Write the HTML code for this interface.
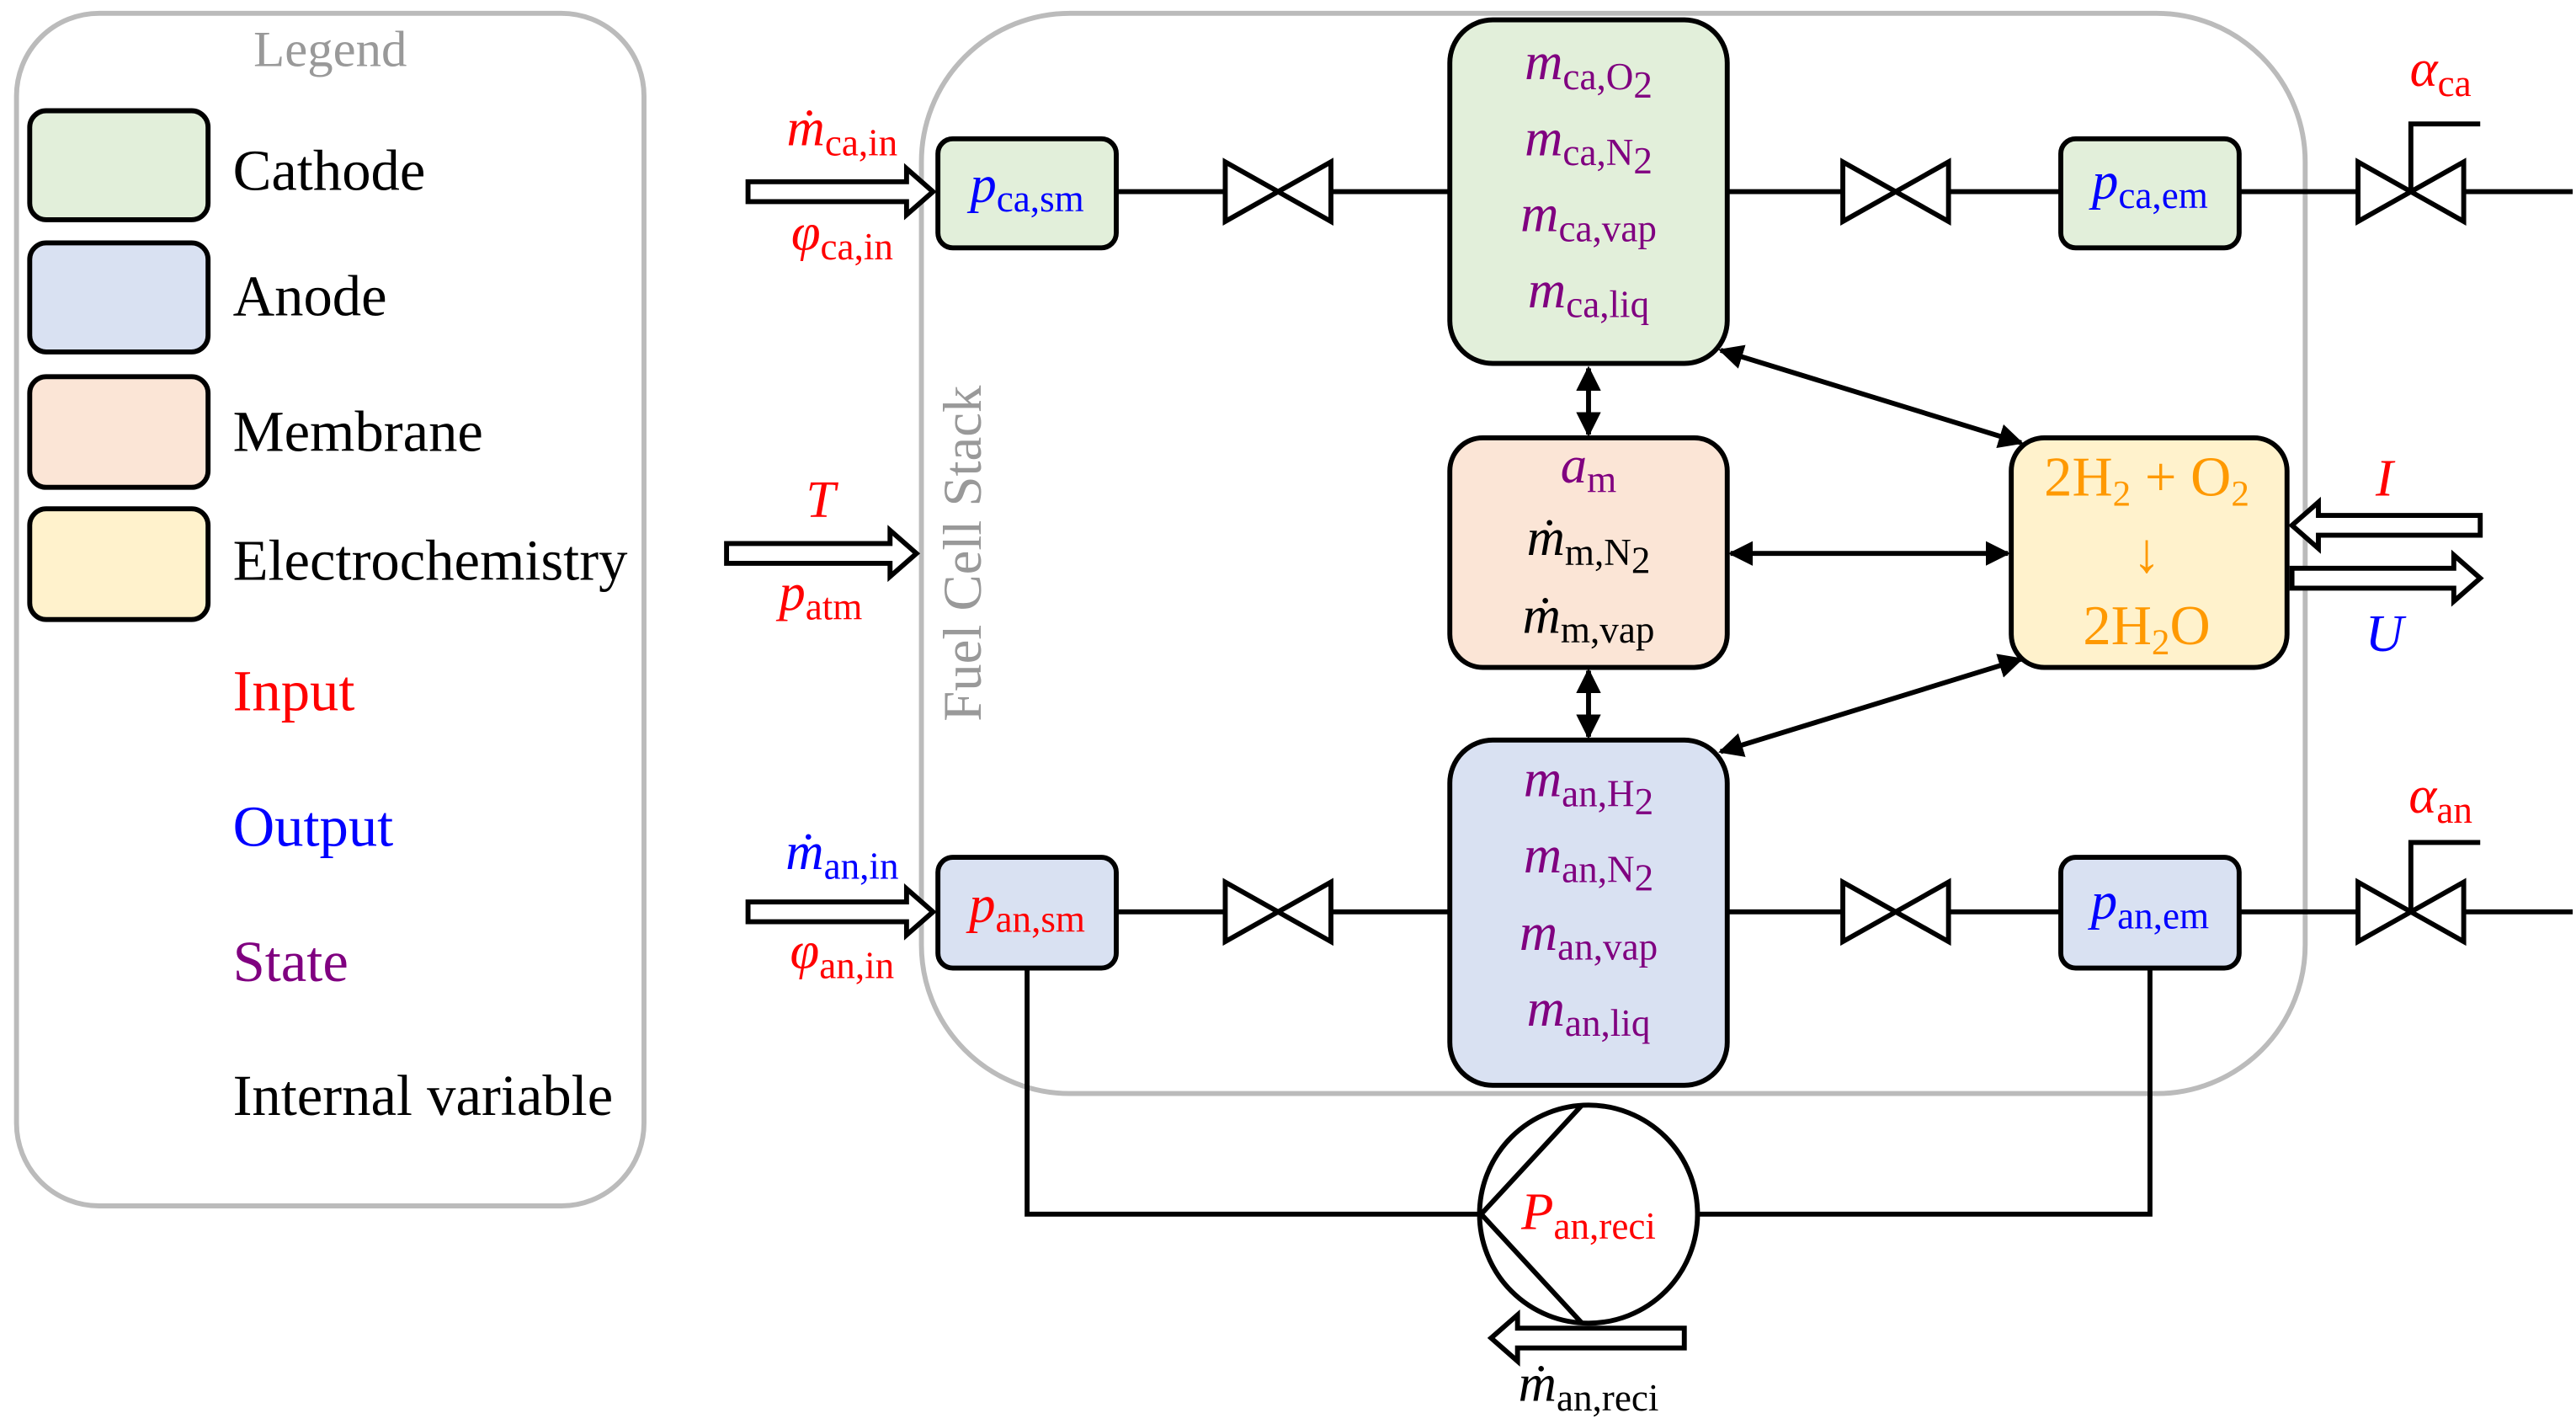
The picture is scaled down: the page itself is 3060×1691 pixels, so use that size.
<!DOCTYPE html>
<html><head><meta charset="utf-8"><style>
html,body{margin:0;padding:0;background:#fff;}
svg{display:block;}
text{font-family:"Liberation Serif",serif;}
.m{font-style:italic;}
.s{font-style:normal;font-size:23px;}
</style></head><body>
<svg width="3060" height="1691" viewBox="0 0 1560 862" xmlns="http://www.w3.org/2000/svg">
<defs>
<marker id="ah" viewBox="0 0 10 10" refX="9" refY="5" markerWidth="5" markerHeight="5" orient="auto-start-reverse"><path d="M0,0 L10,5 L0,10 z" fill="#000"/></marker>
</defs>
<rect x="10" y="8" width="380" height="722" rx="50" fill="none" stroke="#bbb" stroke-width="3"/>
<text x="200" y="40" font-size="31" fill="#999" text-anchor="middle">Legend</text>
<rect x="18" y="67" width="108" height="66" rx="10" fill="#e2efda" stroke="#000" stroke-width="3"/>
<rect x="18" y="147" width="108" height="66" rx="10" fill="#d9e1f2" stroke="#000" stroke-width="3"/>
<rect x="18" y="228" width="108" height="67" rx="10" fill="#fbe5d6" stroke="#000" stroke-width="3"/>
<rect x="18" y="308" width="108" height="67" rx="10" fill="#fff2cc" stroke="#000" stroke-width="3"/>
<g font-size="35">
<text x="141" y="115">Cathode</text>
<text x="141" y="191">Anode</text>
<text x="141" y="273">Membrane</text>
<text x="141" y="351">Electrochemistry</text>
<text x="141" y="430" fill="#f00">Input</text>
<text x="141" y="512" fill="#00f">Output</text>
<text x="141" y="594" fill="#800080">State</text>
<text x="141" y="675">Internal variable</text>
</g>
<rect x="558" y="8" width="838" height="654" rx="90" fill="none" stroke="#bbb" stroke-width="3"/>
<text transform="translate(594,335) rotate(-90)" font-size="33" fill="#999" text-anchor="middle">Fuel Cell Stack</text>

<g stroke="#000" stroke-width="3" fill="none">
<line x1="676" y1="116" x2="878" y2="116"/>
<line x1="1046" y1="116" x2="1248" y2="116"/>
<line x1="1356" y1="116" x2="1558" y2="116"/>
<line x1="676" y1="552" x2="878" y2="552"/>
<line x1="1046" y1="552" x2="1248" y2="552"/>
<line x1="1356" y1="552" x2="1558" y2="552"/>
<polyline points="622,586 622,735 896,735"/>
<polyline points="1302,586 1302,735 1028,735"/>
<circle cx="962" cy="735" r="66" fill="#fff"/>
<polyline points="958,669 897,735 958,801"/>
<polyline points="1460,116 1460,75 1502,75"/>
<polyline points="1460,552 1460,510 1502,510"/>
</g>
<g stroke="#000" stroke-width="3" fill="#fff">
<path d="M742,98 L806,134 L806,98 L742,134 Z"/>
<path d="M1116,98 L1180,134 L1180,98 L1116,134 Z"/>
<path d="M1428,98 L1492,134 L1492,98 L1428,134 Z"/>
<path d="M742,534 L806,570 L806,534 L742,570 Z"/>
<path d="M1116,534 L1180,570 L1180,534 L1116,570 Z"/>
<path d="M1428,534 L1492,570 L1492,534 L1428,570 Z"/>
</g>
<g stroke="#000" stroke-width="3">
<rect x="568" y="84" width="108" height="66" rx="9" fill="#e2efda"/>
<rect x="1248" y="84" width="108" height="66" rx="9" fill="#e2efda"/>
<rect x="878" y="12" width="168" height="208" rx="26" fill="#e2efda"/>
<rect x="878" y="265" width="168" height="139" rx="20" fill="#fbe5d6"/>
<rect x="1218" y="265" width="167" height="139" rx="20" fill="#fff2cc"/>
<rect x="878" y="448" width="168" height="209" rx="26" fill="#d9e1f2"/>
<rect x="568" y="519" width="108" height="67" rx="9" fill="#d9e1f2"/>
<rect x="1248" y="519" width="108" height="67" rx="9" fill="#d9e1f2"/>
</g>
<g stroke="#000" stroke-width="3" marker-start="url(#ah)" marker-end="url(#ah)">
<line x1="962" y1="223" x2="962" y2="263"/>
<line x1="962" y1="406" x2="962" y2="446"/>
<line x1="1048" y1="335" x2="1216" y2="335"/>
<line x1="1042" y1="212" x2="1224" y2="268"/>
<line x1="1042" y1="455" x2="1224" y2="399"/>
</g>
<g stroke="#000" stroke-width="3" fill="#fff">
<path d="M453,110 L549,110 L549,102 L565,116 L549,130 L549,122 L453,122 Z"/>
<path d="M453,546 L549,546 L549,538 L565,552 L549,566 L549,558 L453,558 Z"/>
<path d="M440,329 L539,329 L539,321 L555,335 L539,349 L539,341 L440,341 Z"/>
<path d="M1502,312 L1404,312 L1404,304 L1388,318 L1404,332 L1404,324 L1502,324 Z"/>
<path d="M1388,344 L1486,344 L1486,336 L1502,350 L1486,364 L1486,356 L1388,356 Z"/>
<path d="M1020,804 L919,804 L919,796 L903,810 L919,824 L919,816 L1020,816 Z"/>
</g>
<g font-size="32" text-anchor="middle">
<text x="622" y="122" fill="#00f"><tspan class="m">p</tspan><tspan class="s" dy="6">ca,sm</tspan></text>
<text x="1302" y="120" fill="#00f"><tspan class="m">p</tspan><tspan class="s" dy="6">ca,em</tspan></text>
<text x="622" y="558" fill="#f00"><tspan class="m">p</tspan><tspan class="s" dy="6">an,sm</tspan></text>
<text x="1302" y="556" fill="#00f"><tspan class="m">p</tspan><tspan class="s" dy="6">an,em</tspan></text>
<g fill="#800080">
<text x="962" y="48"><tspan class="m">m</tspan><tspan class="s" dy="6">ca,O</tspan><tspan class="s" font-size="18" dy="5">2</tspan></text>
<text x="962" y="94"><tspan class="m">m</tspan><tspan class="s" dy="6">ca,N</tspan><tspan class="s" font-size="18" dy="5">2</tspan></text>
<text x="962" y="140"><tspan class="m">m</tspan><tspan class="s" dy="6">ca,vap</tspan></text>
<text x="962" y="186"><tspan class="m">m</tspan><tspan class="s" dy="6">ca,liq</tspan></text>
<text x="962" y="292"><tspan class="m">a</tspan><tspan class="s" dy="6">m</tspan></text>
<text x="962" y="482"><tspan class="m">m</tspan><tspan class="s" dy="6">an,H</tspan><tspan class="s" font-size="18" dy="5">2</tspan></text>
<text x="962" y="528"><tspan class="m">m</tspan><tspan class="s" dy="6">an,N</tspan><tspan class="s" font-size="18" dy="5">2</tspan></text>
<text x="962" y="575"><tspan class="m">m</tspan><tspan class="s" dy="6">an,vap</tspan></text>
<text x="962" y="621"><tspan class="m">m</tspan><tspan class="s" dy="6">an,liq</tspan></text>
</g>
<text x="962" y="336"><tspan class="m">ṁ</tspan><tspan class="s" dy="6">m,N</tspan><tspan class="s" font-size="18" dy="5">2</tspan></text>
<text x="962" y="383"><tspan class="m">ṁ</tspan><tspan class="s" dy="6">m,vap</tspan></text>
<g fill="#f90" font-size="34">
<text x="1300" y="300">2H<tspan font-size="22" dy="6">2</tspan><tspan dy="-6"> + O</tspan><tspan font-size="22" dy="6">2</tspan></text>
<text x="1300" y="346">↓</text>
<text x="1300" y="390">2H<tspan font-size="22" dy="6">2</tspan><tspan dy="-6">O</tspan></text>
</g>
<text x="510" y="88" fill="#f00"><tspan class="m">ṁ</tspan><tspan class="s" dy="6">ca,in</tspan></text>
<text x="510" y="151" fill="#f00"><tspan class="m">φ</tspan><tspan class="s" dy="6">ca,in</tspan></text>
<text x="510" y="526" fill="#00f"><tspan class="m">ṁ</tspan><tspan class="s" dy="6">an,in</tspan></text>
<text x="510" y="586" fill="#f00"><tspan class="m">φ</tspan><tspan class="s" dy="6">an,in</tspan></text>
<text x="497" y="313" fill="#f00" class="m">T</text>
<text x="497" y="369" fill="#f00"><tspan class="m">p</tspan><tspan class="s" dy="6">atm</tspan></text>
<text x="1478" y="52" fill="#f00"><tspan class="m">α</tspan><tspan class="s" dy="6">ca</tspan></text>
<text x="1478" y="492" fill="#f00"><tspan class="m">α</tspan><tspan class="s" dy="6">an</tspan></text>
<text x="1444" y="300" fill="#f00" class="m">I</text>
<text x="1444" y="394" fill="#00f" class="m">U</text>
<text x="962" y="744" fill="#f00"><tspan class="m">P</tspan><tspan class="s" dy="6">an,reci</tspan></text>
<text x="962" y="848"><tspan class="m">ṁ</tspan><tspan class="s" dy="6">an,reci</tspan></text>
</g>
</svg>
</body></html>
